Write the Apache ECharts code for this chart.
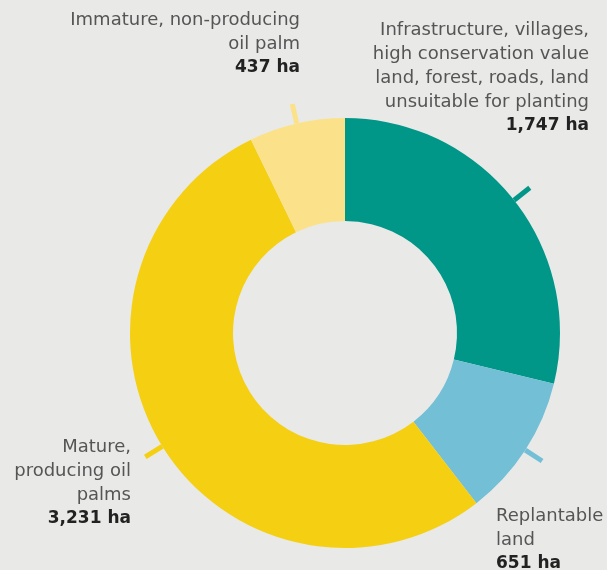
<!DOCTYPE html>
<html>
<head>
<meta charset="utf-8">
<script src="https://cdn.jsdelivr.net/npm/echarts@6/dist/echarts.min.js"></script>
<style>
  html, body { margin: 0; padding: 0; background: #e9e9e7; }
  #main { width: 607px; height: 570px; }
</style>
</head>
<body>
<div id="main"></div>
<script>
// 数据
var categories = [
    'Infrastructure, villages,\nhigh conservation value\nland, forest, roads, land\nunsuitable for planting',
    'Replantable\nland',
    'Mature,\nproducing oil\npalms',
    'Immature, non-producing\noil palm'
];
var areaValues = [1747, 651, 3231, 437];
var colors = ['#009688', '#72bfd6', '#f5cf12', '#fbe28a'];

// 标签位置 (x, y, 对齐方式)
var labelPos = [
    { x: 589, y: 18, align: 'right' },
    { x: 496, y: 504, align: 'left' },
    { x: 131, y: 435, align: 'right' },
    { x: 300, y: 8, align: 'right' }
];

var myChart = echarts.init(document.getElementById('main'));

var pieData = categories.map(function (name, i) {
    return {
        name: name,
        value: areaValues[i],
        itemStyle: { color: colors[i] },
        labelLine: { lineStyle: { color: colors[i] } },
        label: { align: labelPos[i].align }
    };
});

var option = {
    backgroundColor: '#e9e9e7',
    animation: false,
    series: [{
        type: 'pie',
        center: [345, 333],
        radius: [112, 215],
        startAngle: 90,
        clockwise: true,
        data: pieData,
        label: {
            show: true,
            position: 'outside',
            overflow: 'none',
            formatter: function (p) {
                return '{n|' + p.name.split('\n').join('}\n{n|') + '}\n{v|' +
                    p.value.toLocaleString('en-US') + ' ha}';
            },
            rich: {
                n: { fontFamily: 'DejaVu Sans', fontSize: 18, color: '#555555', lineHeight: 24 },
                v: { fontFamily: 'DejaVu Sans', fontSize: 17, fontWeight: 'bold', color: '#222', lineHeight: 24 }
            }
        },
        labelLine: {
            show: true,
            length: 20,
            length2: 0,
            smooth: false,
            lineStyle: { width: 5 }
        },
        labelLayout: function (params) {
            var pos = labelPos[params.dataIndex];
            var pts = params.labelLinePoints;
            return {
                x: pos.x,
                y: pos.y,
                align: pos.align,
                verticalAlign: 'top',
                labelLinePoints: pts ? [pts[0], pts[1]] : undefined
            };
        }
    }]
};

myChart.setOption(option);
</script>
</body>
</html>
